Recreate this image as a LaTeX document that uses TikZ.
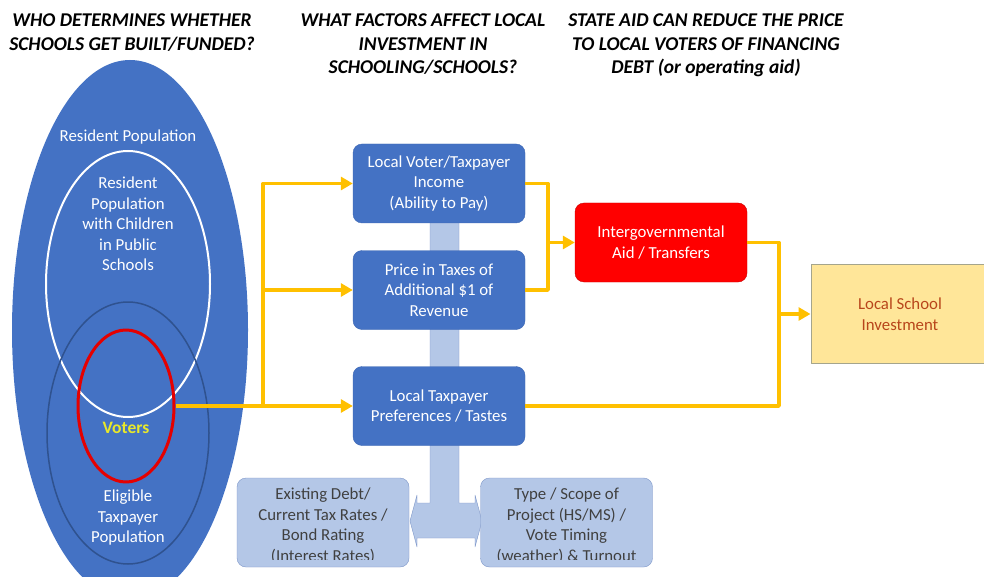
\documentclass[tikz,border=0pt]{standalone}
\usepackage{fontspec}
\setmainfont{Carlito}
\usepackage{tikz}
\usetikzlibrary{arrows.meta,shapes.geometric,positioning}
\definecolor{boxblue}{HTML}{4472C4}
\definecolor{boxedge}{HTML}{3D67B3}
\definecolor{darkring}{HTML}{2F528F}
\definecolor{lightblue}{HTML}{B4C7E7}
\definecolor{lightedge}{HTML}{7F97C9}
\definecolor{gold}{HTML}{FFC000}
\definecolor{aidred}{HTML}{FF0000}
\definecolor{aidedge}{HTML}{C80000}
\definecolor{investfill}{HTML}{FFE699}
\definecolor{investedge}{HTML}{A5A58C}
\definecolor{investtext}{HTML}{B8461B}
\definecolor{votersyellow}{HTML}{E8E82A}
\definecolor{condtext}{HTML}{404040}

\begin{document}
\begin{tikzpicture}[x=1pt,y=-1pt,line join=round,
  head/.style={font=\fontsize{19.5}{23.5}\selectfont\bfseries\itshape,align=center,anchor=north,inner sep=0pt},
  txt/.style={font=\fontsize{16.8}{20.5}\selectfont,align=center,text=white},
  factor/.style={draw=boxedge,fill=boxblue,rounded corners=9pt,minimum width=172pt,minimum height=79pt,txt},
  cond/.style={draw=lightedge,fill=lightblue,rounded corners=9pt,minimum width=172pt,minimum height=89pt},
  flow/.style={draw=gold,line width=3.5pt},
  flowarrow/.style={flow,-{Triangle[length=12pt,width=13pt]}},
  ring/.style={ellipse,inner sep=0pt}]
\useasboundingbox (0,0) rectangle (984,577);
\clip (0,0) rectangle (984,577);
\fill[white] (0,0) rectangle (984,577);

\node[head] (who) at (132,14) {WHO DETERMINES WHETHER\\SCHOOLS GET BUILT/FUNDED?};
\node[head] (what) at (423,14) {WHAT FACTORS AFFECT LOCAL\\INVESTMENT IN\\SCHOOLING/SCHOOLS?};
\node[head] (state) at (706,14) {STATE AID CAN REDUCE THE PRICE\\TO LOCAL VOTERS OF FINANCING\\DEBT (or operating aid)};

\node[ring,fill=boxblue,minimum width=236pt,minimum height=540pt] (resident) at (130,330) {};
\node[ring,draw=white,line width=2pt,minimum width=164pt,minimum height=266pt] (parents) at (128,284) {};
\node[ring,draw=darkring,line width=1.5pt,minimum width=162pt,minimum height=262pt] (eligible) at (128,433) {};
\node[ring,draw=red!90!black,line width=3pt,minimum width=96pt,minimum height=152pt] (voters) at (126,406) {};
\node[txt] (residenttext) at (128,137) {Resident Population};
\node[txt] (parentstext) at (128,224) {Resident\\Population\\with Children\\in Public\\Schools};
\node[txt,text=votersyellow,font=\fontsize{17.5}{20}\selectfont\bfseries] (voterstext) at (126,428) {Voters};
\node[txt] (eligibletext) at (128,518) {Eligible\\Taxpayer\\Population};

\draw[draw=lightedge,fill=lightblue] (430,200) -- (430,503) -- (417,503) -- (417,495) -- (410,521)
  -- (417,547) -- (417,538) -- (475,538) -- (475,547) -- (482,521) -- (475,495) -- (475,503)
  -- (459,503) -- (459,200) -- cycle;

\node[factor] (income) at (439,183.5) {Local Voter/Taxpayer\\Income\\(Ability to Pay)};
\node[factor] (price) at (439,290) {Price in Taxes of\\Additional \$1 of\\Revenue};
\node[factor] (tastes) at (439,406) {Local Taxpayer\\Preferences / Tastes};
\node[factor,draw=aidedge,fill=aidred] (aid) at (661,242.5) {Intergovernmental\\Aid / Transfers};
\node[draw=investedge,fill=investfill,line width=1pt,minimum width=178pt,minimum height=99pt,
  txt,text=investtext] (invest) at (900,314) {Local School\\Investment};

\node[cond] (debt) at (323,522.5) {};
\node[cond] (project) at (566.5,522.5) {};
\begin{scope}
\clip (230,470) rectangle (660,559);
\node[txt,text=condtext] (debttext) at (323,526) {Existing Debt/\\Current Tax Rates /\\Bond Rating\\(Interest Rates)};
\node[txt,text=condtext] (projecttext) at (566.5,526) {Type / Scope of\\Project (HS/MS) /\\Vote Timing\\(weather) \& Turnout};
\end{scope}

\coordinate (split) at (263,406);
\coordinate (join1) at (548,242.5);
\coordinate (join2) at (779,314);
\draw[flowarrow] (voters.east) -- (tastes.west);
\draw[flowarrow] (split) |- (income.west);
\draw[flowarrow] (split) |- (price.west);
\draw[flow] (income.east) -| (join1) |- (price.east);
\draw[flowarrow] (join1) -- (aid.west);
\draw[flow] (aid.east) -| (join2) |- (tastes.east);
\draw[flowarrow] (join2) -- (invest.west);
\end{tikzpicture}
\end{document}
